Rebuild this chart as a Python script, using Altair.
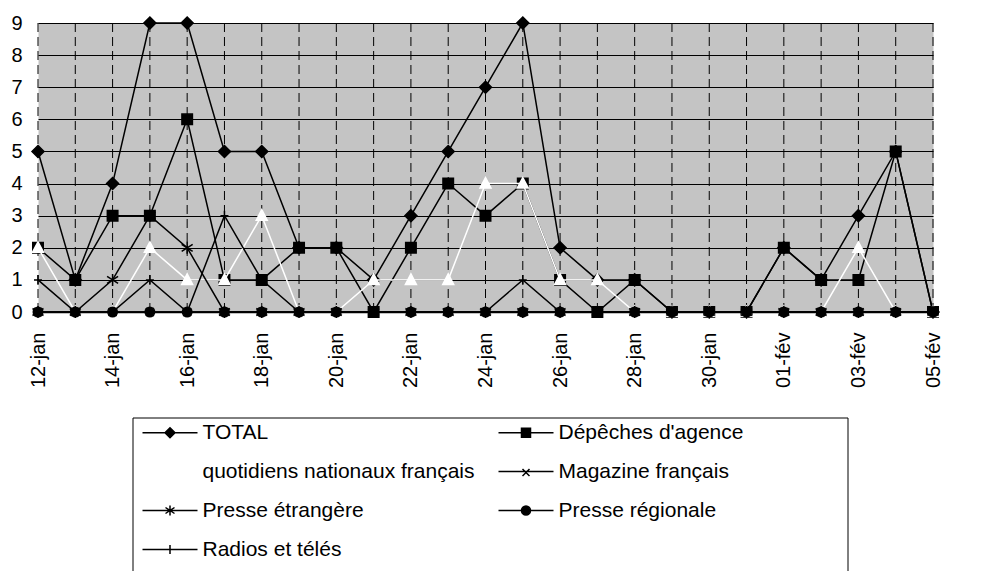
import altair as alt
import pandas as pd

days = ["12-jan", "13-jan", "14-jan", "15-jan", "16-jan", "17-jan", "18-jan",
        "19-jan", "20-jan", "21-jan", "22-jan", "23-jan", "24-jan", "25-jan",
        "26-jan", "27-jan", "28-jan", "29-jan", "30-jan", "31-jan",
        "01-fév", "02-fév", "03-fév", "04-fév", "05-fév"]

series_names = ["TOTAL", "Dépêches d'agence", "quotidiens nationaux français",
                "Magazine français", "Presse étrangère", "Presse régionale",
                "Radios et télés"]

total      = [5, 1, 4, 9, 9, 5, 5, 2, 2, 1, 3, 5, 7, 9, 2, 1, 1, 0, 0, 0, 2, 1, 3, 5, 0]
depeches   = [2, 1, 3, 3, 6, 1, 1, 2, 2, 0, 2, 4, 3, 4, 1, 0, 1, 0, 0, 0, 2, 1, 1, 5, 0]
quotidiens = [2, 0, 0, 2, 1, 1, 3, 0, 0, 1, 1, 1, 4, 4, 1, 1, 0, 0, 0, 0, 0, 0, 2, 0, 0]
magazine   = [0, 0, 0, 0, 0, 0, 0, 0, 0, 0, 0, 0, 0, 0, 0, 0, 0, 0, 0, 0, 0, 0, 0, 0, 0]
etrangere  = [0, 0, 1, 3, 2, 0, 0, 0, 0, 0, 0, 0, 0, 0, 0, 0, 0, 0, 0, 0, 0, 0, 0, 0, 0]
regionale  = [0, 0, 0, 0, 0, 0, 0, 0, 0, 0, 0, 0, 0, 0, 0, 0, 0, 0, 0, 0, 0, 0, 0, 0, 0]
radios     = [1, 0, 0, 1, 0, 3, 1, 0, 0, 0, 0, 0, 0, 1, 0, 0, 0, 0, 0, 0, 0, 0, 0, 0, 0]

series_values = [total, depeches, quotidiens, magazine, etrangere, regionale, radios]

# legend reads row by row: left column then right column entries
legend_order = ["TOTAL", "quotidiens nationaux français", "Presse étrangère",
                "Radios et télés", "Dépêches d'agence", "Magazine français",
                "Presse régionale"]

rows = []
for name, vals in zip(series_names, series_values):
    for d, v in zip(days, vals):
        rows.append({"day": d, "count": v, "series": name})
df = pd.DataFrame(rows)

FONT = "Liberation Sans"

# ---- styles (per series, in series_names order) ----
line_colors = ["black", "black", "white", "black", "black", "black", "black"]
marker_shapes = [
    "M0,-1.2L1.2,0L0,1.2L-1.2,0Z",
    "M-1,-1H1V1H-1Z",
    "M0,-1.2L1.1,0.9L-1.1,0.9Z",
    "M-1,-1L1,1M-1,1L1,-1",
    "M0,-1.2V1.2M-1.1,-0.7L1.1,0.7M-1.1,0.7L1.1,-0.7",
    "circle",
    "M-1,0H1M0,-1.2V1.2",
]
marker_filled = [True, True, True, False, False, True, False]
marker_fill = ["black", "black", "white", "transparent", "transparent", "black", "transparent"]
marker_stroke = ["black", "black", "white", "black", "black", "black", "black"]
marker_size = [100, 110, 100, 64, 100, 90, 64]

LINE = "M-5.5,0H5.5"
legend_path_by_series = {
    "TOTAL": LINE + "M0,-1L1,0L0,1L-1,0Z",
    "Dépêches d'agence": LINE + "M-0.9,-0.9H0.9V0.9H-0.9Z",
    "quotidiens nationaux français": LINE + "M0,-1L0.9,0.8L-0.9,0.8Z",
    "Magazine français": LINE + "M-0.7,-0.5L0.7,0.9M-0.7,0.9L0.7,-0.5",
    "Presse étrangère": LINE + "M0,-1V1M-0.9,-0.6L0.9,0.6M-0.9,0.6L0.9,-0.6",
    "Presse régionale": LINE + "M0.9,0A0.9,0.9 0 1,1 -0.9,0A0.9,0.9 0 1,1 0.9,0Z",
    "Radios et télés": LINE + "M0,-0.9V0.9",
}
legend_fill_by_series = {
    "TOTAL": "black", "Dépêches d'agence": "black",
    "quotidiens nationaux français": "white", "Magazine français": "transparent",
    "Presse étrangère": "transparent", "Presse régionale": "black",
    "Radios et télés": "transparent",
}
legend_stroke_by_series = {n: ("white" if n == "quotidiens nationaux français" else "black")
                           for n in series_names}

X = alt.X("day:N", sort=days, title=None,
          scale=alt.Scale(type="point", padding=0),
          axis=alt.Axis(values=days[::2], labelAngle=270, labelFont=FONT,
                        labelFontSize=20, labelColor="black", ticks=False,
                        domainColor="black", domainWidth=1.5, grid=False,
                        labelPadding=20))
Y = alt.Y("count:Q", title=None,
          scale=alt.Scale(domain=[0, 9], nice=False, zero=True),
          axis=alt.Axis(values=list(range(10)), grid=True, gridColor="black",
                        gridWidth=1, gridOpacity=1, domain=False, ticks=False,
                        labelFont=FONT, labelFontSize=20, labelColor="black",
                        labelPadding=16))

base = alt.Chart(df)

layers = []

# vertical dashed gridlines at every day
rules = alt.Chart(pd.DataFrame({"day": days})).mark_rule(
    color="black", strokeWidth=1, strokeDash=[9, 5]
).encode(x=X)
layers.append(rules)

for i, name in enumerate(series_names):
    sub = base.transform_filter(alt.datum.series == name)
    layers.append(sub.mark_line(color=line_colors[i], strokeWidth=1.5).encode(x=X, y=Y))
    layers.append(sub.mark_point(shape=marker_shapes[i], filled=marker_filled[i],
                                 fill=marker_fill[i], stroke=marker_stroke[i],
                                 size=marker_size[i], strokeWidth=1.5,
                                 opacity=1).encode(x=X, y=Y))

# legend frame
frame = alt.Chart(pd.DataFrame({"a": [0]})).mark_rect(
    fill="transparent", stroke="black", strokeWidth=1
).encode(x=alt.value(95), x2=alt.value(810), y=alt.value(395), y2=alt.value(580))
layers.append(frame)

leg = alt.Legend(title=None, orient="none", legendX=104, legendY=399, columns=2,
                 symbolSize=100, symbolStrokeWidth=1.5, symbolOffset=17.5,
                 labelOffset=22, labelFont=FONT, labelFontSize=21,
                 labelColor="black", labelLimit=500, rowPadding=17,
                 columnPadding=20, padding=0)

legend_layer = base.transform_filter("false").mark_point(opacity=1).encode(
    x=X, y=Y,
    shape=alt.Shape("series:N", legend=leg, scale=alt.Scale(
        domain=legend_order, range=[legend_path_by_series[n] for n in legend_order])),
    fill=alt.Fill("series:N", legend=leg, scale=alt.Scale(
        domain=legend_order, range=[legend_fill_by_series[n] for n in legend_order])),
    stroke=alt.Stroke("series:N", legend=leg, scale=alt.Scale(
        domain=legend_order, range=[legend_stroke_by_series[n] for n in legend_order])),
)
layers.append(legend_layer)

chart = alt.layer(*layers).properties(
    width=895, height=289,
    padding={"left": 30, "top": 15, "right": 30, "bottom": 259},
    autosize=alt.AutoSizeParams(type="none"),
).configure_view(fill="#c4c4c4", stroke="transparent")

chart.save("out.html", embed_options={"renderer": "svg", "actions": False})
